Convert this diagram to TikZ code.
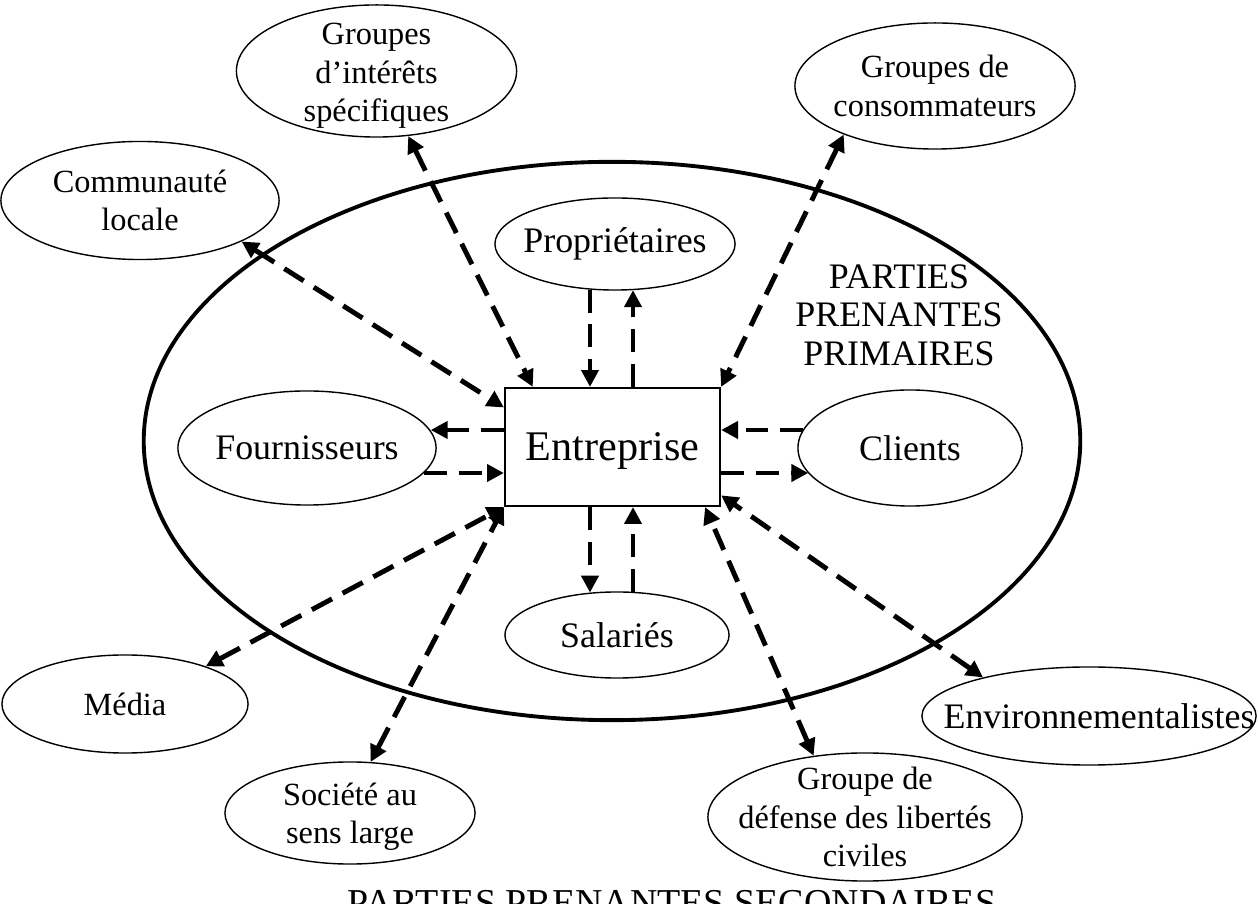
\documentclass[tikz,border=0pt]{standalone}
\usepackage{fontspec}
\setmainfont{Liberation Serif}
\usepackage{tikz}
\usetikzlibrary{shapes.geometric, arrows.meta}

\begin{document}
\begin{tikzpicture}[x=0.01cm, y=-0.01cm,
    oval/.style={draw, ellipse, line width=0.4pt, inner sep=0pt},
    txt/.style={align=center, font=\fontsize{10.2}{10.9}\selectfont},
    txtsec/.style={align=center, font=\fontsize{9.2}{10.9}\selectfont},
    flow/.style={line width=1.4pt, dash pattern=on 6.5pt off 3.4pt,
      -{Triangle[length=4.8pt,width=4.8pt]}},
    both/.style={flow, {Triangle[length=4.8pt,width=4.8pt]}-{Triangle[length=4.8pt,width=4.8pt]}}]
  \useasboundingbox (0,0) rectangle (1258,904);

  % parties prenantes primaires
  \draw[line width=1.1pt] (612,441) ellipse (4.68cm and 2.79cm);
  \node[txt] (prim) at (899,315) {PARTIES\\PRENANTES\\PRIMAIRES};

  \node[draw, line width=0.6pt, minimum width=2.15cm, minimum height=1.18cm, text depth=0pt,
    font=\fontsize{12}{14}\selectfont] (ent) at (612.5,447) {Entreprise};

  \node[oval, minimum width=2.40cm, minimum height=0.92cm] (prop) at (615,244) {};
  \node[txt] (prop-t) at (prop) {Propriétaires};
  \node[oval, minimum width=2.58cm, minimum height=1.14cm] (four) at (307,448) {};
  \node[txt] (four-t) at (four) {Fournisseurs};
  \node[oval, minimum width=2.24cm, minimum height=1.16cm] (cli) at (910,448) {};
  \node[txt] (cli-t) at (cli) {Clients};
  \node[oval, minimum width=2.24cm, minimum height=0.86cm] (sal) at (617,635) {};
  \node[txt] (sal-t) at (sal) {Salariés};

  % parties prenantes secondaires
  \node[oval, minimum width=2.80cm, minimum height=1.32cm] (gis) at (376.5,71) {};
  \node[txtsec] (gis-t) at ([yshift=-0.05cm]gis) {Groupes\\d’intérêts\\spécifiques};
  \node[oval, minimum width=2.80cm, minimum height=1.26cm] (gdc) at (935,86) {};
  \node[txtsec] (gdc-t) at (gdc) {Groupes de\\consommateurs};
  \node[oval, minimum width=2.78cm, minimum height=1.18cm] (com) at (140,200.5) {};
  \node[txtsec] (com-t) at (com) {Communauté\\locale};
  \node[oval, minimum width=2.46cm, minimum height=0.98cm] (media) at (125,704) {};
  \node[txtsec] (media-t) at (media) {Média};
  \node[oval, minimum width=2.50cm, minimum height=1.02cm] (soc) at (350,813) {};
  \node[txtsec] (soc-t) at ([yshift=-0.04cm]soc) {Société au\\sens large};
  \node[oval, minimum width=3.14cm, minimum height=1.28cm] (gdl) at (865,817) {};
  \node[txtsec] (gdl-t) at (gdl) {Groupe de\\défense des libertés\\civiles};
  \node[oval, minimum width=3.34cm, minimum height=0.98cm] (env) at (1089,716) {};
  \node[txt] (env-t) at ([xshift=0.1cm]env) {Environnementalistes};

  \node[font=\fontsize{10.8}{12}\selectfont] (sec) at (672,903) {PARTIES PRENANTES SECONDAIRES};

  % flux primaires
  \draw[flow] ([xshift=-0.225cm]ent.north |- prop.241) -- ([xshift=-0.225cm]ent.north);
  \draw[flow] ([xshift=0.205cm]ent.north) -- ([xshift=0.205cm]ent.north |- prop.292);
  \draw[flow] ([xshift=-0.225cm]ent.south) -- ([xshift=-0.225cm]ent.south |- sal.123);
  \draw[flow] ([xshift=0.205cm]ent.south |- sal.69) -- ([xshift=0.205cm]ent.south);
  \draw[flow] ([yshift=0.17cm]ent.west) -- ([yshift=0.17cm]ent.west -| four.8);
  \draw[flow] ([yshift=-0.26cm]ent.west -| four.348) -- ([yshift=-0.26cm]ent.west);
  \draw[flow] ([yshift=0.17cm]ent.east -| cli.170) -- ([yshift=0.17cm]ent.east);
  \draw[flow] ([yshift=-0.26cm]ent.east) -- ([yshift=-0.26cm]ent.east -| cli.194);

  % flux secondaires
  \draw[both] (gis.296) -- (ent.143);
  \draw[both] (gdc.208) -- (ent.north east);
  \draw[both] (com.338) -- (ent.160);
  \draw[both] (media.25) -- (ent.south west);
  \draw[both] (soc.68) -- (ent.south west);
  \draw[both] (gdl.130) -- (ent.327);
  \draw[both] (env.160) -- (ent.336);
\end{tikzpicture}
\end{document}
